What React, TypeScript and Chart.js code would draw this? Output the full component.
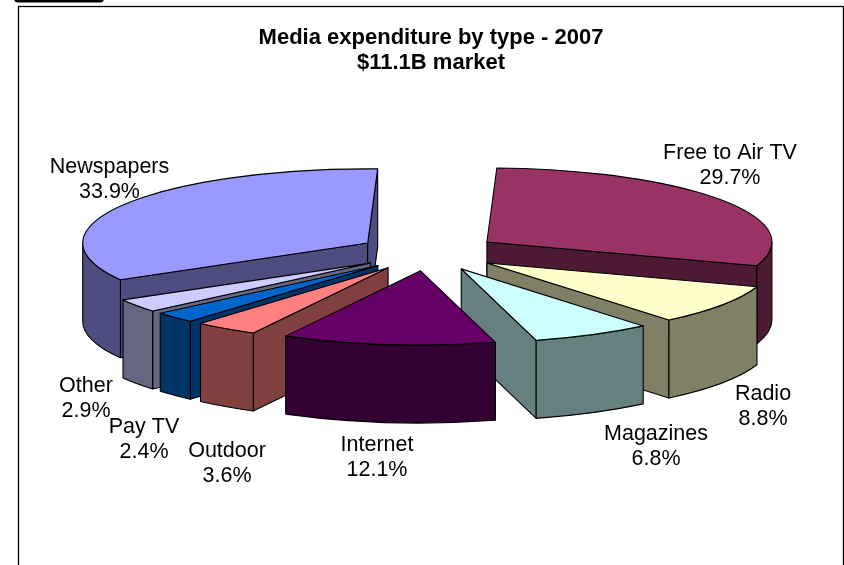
import { useEffect, useRef } from "react";
import { Chart, registerables } from "chart.js";

Chart.register(...registerables);

const categories = ["Free to Air TV", "Radio", "Magazines", "Internet", "Outdoor", "Pay TV", "Other", "Newspapers"];
const sharePercent = [29.7, 8.8, 6.8, 12.1, 3.6, 2.4, 2.9, 33.9];
const topColours = ["#993366", "#FFFFCC", "#CCFFFF", "#660066", "#FF8080", "#0066CC", "#CCCCFF", "#9999FF"];
const wallColours = ["#4D1A33", "#808066", "#668080", "#330033", "#804040", "#003366", "#666680", "#4D4D80"];
const titleLines = ["Media expenditure by type - 2007", "$11.1B market"];

// Centre of each two-line slice label, in the same order as the categories.
const labelCentres = [
  [730, 166], [763, 406.5], [656, 446.5], [377, 457.5],
  [227, 463.5], [144, 440], [86, 399], [109.5, 180],
];

// Back-to-front order for the exploded slices.
const paintOrder = [0, 7, 1, 6, 5, 4, 2, 3];

const TILT = 0.26;
const DEPTH = 78;
const EXPLODE = 71;
const PIE_SHIFT_X = -2.5;
const FONT = '"Liberation Sans", Arial, sans-serif';

function outline(ctx: CanvasRenderingContext2D, fill: string) {
  ctx.fillStyle = fill;
  ctx.fill();
  ctx.stroke();
}

function drawRadialWall(ctx: CanvasRenderingContext2D, x: number, y: number, r: number, angle: number, fill: string) {
  const rimX = x + Math.cos(angle) * r;
  const rimY = y + Math.sin(angle) * r * TILT;
  ctx.beginPath();
  ctx.moveTo(x, y);
  ctx.lineTo(rimX, rimY);
  ctx.lineTo(rimX, rimY + DEPTH);
  ctx.lineTo(x, y + DEPTH);
  ctx.closePath();
  outline(ctx, fill);
}

function drawSlice(ctx: CanvasRenderingContext2D, arc: any, wall: string, top: string) {
  const { startAngle: a0, endAngle: a1, outerRadius: r } = arc;
  const mid = (a0 + a1) / 2;
  const x = arc.x + PIE_SHIFT_X + Math.cos(mid) * EXPLODE;
  const y = arc.y + Math.sin(mid) * EXPLODE * TILT;

  // A cut face shows only when it turns toward the viewer.
  if (Math.cos(a0) < 0) drawRadialWall(ctx, x, y, r, a0, wall);
  if (Math.cos(a1) > 0) drawRadialWall(ctx, x, y, r, a1, wall);

  // Curved outer wall: only the stretch along the lower half of the ellipse.
  for (const turn of [-2 * Math.PI, 0, 2 * Math.PI]) {
    const from = Math.max(a0 + turn, 0);
    const to = Math.min(a1 + turn, Math.PI);
    if (to > from) {
      ctx.beginPath();
      ctx.ellipse(x, y, r, r * TILT, 0, from, to);
      ctx.ellipse(x, y + DEPTH, r, r * TILT, 0, to, from, true);
      ctx.closePath();
      outline(ctx, wall);
    }
  }

  ctx.beginPath();
  ctx.moveTo(x, y);
  ctx.ellipse(x, y, r, r * TILT, 0, a0, a1);
  ctx.closePath();
  outline(ctx, top);
}

const exploded3d = {
  id: "exploded3d",
  beforeDraw(chart: Chart) {
    const { ctx } = chart;
    ctx.save();
    ctx.fillStyle = "#000";
    ctx.beginPath();
    ctx.roundRect(14, -6, 90, 8.5, 4);
    ctx.fill();
    ctx.strokeStyle = "#000";
    ctx.lineWidth = 1.3;
    ctx.strokeRect(18.5, 6.5, 825, 600);
    ctx.restore();
  },
  beforeDatasetsDraw(chart: Chart) {
    const { ctx } = chart;
    const arcs = chart.getDatasetMeta(0).data as any[];
    ctx.save();
    ctx.strokeStyle = "#000";
    ctx.lineWidth = 1.1;
    ctx.lineJoin = "round";
    paintOrder.forEach((i) => drawSlice(ctx, arcs[i], wallColours[i], topColours[i]));

    ctx.fillStyle = "#000";
    ctx.font = `21.5px ${FONT}`;
    ctx.textAlign = "center";
    ctx.textBaseline = "middle";
    categories.forEach((name, i) => {
      const [cx, cy] = labelCentres[i];
      ctx.fillText(name, cx, cy - 12.5);
      ctx.fillText(`${sharePercent[i].toFixed(1)}%`, cx, cy + 12.5);
    });
    ctx.restore();
    return false;
  },
};

export default function App() {
  const canvasRef = useRef<HTMLCanvasElement>(null);

  useEffect(() => {
    const chart = new Chart(canvasRef.current!, {
      type: "pie",
      data: {
        labels: categories,
        datasets: [{ data: sharePercent, backgroundColor: topColours, borderColor: "#000", borderWidth: 1 }],
      },
      options: {
        responsive: false,
        animation: false,
        rotation: 2,
        radius: 285,
        layout: { padding: { left: 18, right: 0, top: 25, bottom: 135 } },
        plugins: {
          legend: { display: false },
          tooltip: { enabled: false },
          title: {
            display: true,
            text: titleLines,
            color: "#000",
            font: { family: FONT, size: 22, weight: "bold", lineHeight: 1.136 },
            padding: 0,
          },
        },
      },
      plugins: [exploded3d],
    });
    return () => chart.destroy();
  }, []);

  return (
    <div style={{ position: "absolute", left: 0, top: 0, width: 844, height: 565, overflow: "hidden", background: "#fff" }}>
      <canvas ref={canvasRef} width={844} height={565} style={{ display: "block" }} />
    </div>
  );
}
